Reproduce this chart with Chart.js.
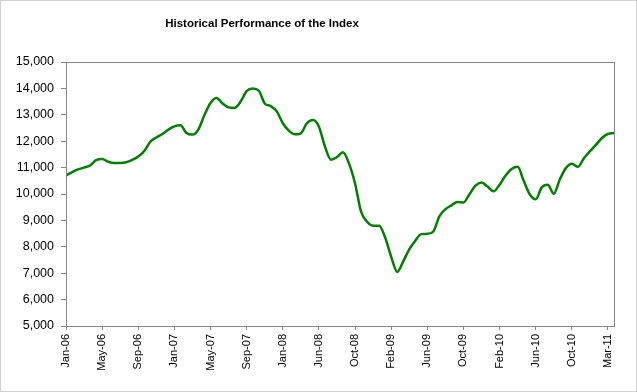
<!DOCTYPE html>
<html>
<head>
<meta charset="utf-8">
<script src="https://cdn.jsdelivr.net/npm/chart.js@4/dist/chart.umd.min.js"></script>
<style>
  html, body { margin: 0; padding: 0; background: #fff; }
  #wrap { width: 637px; height: 392px; }
</style>
</head>
<body>
<div id="wrap"><canvas id="chart" width="637" height="392"></canvas></div>
<script>
const title = "Historical Performance of the Index";

// one labelled tick every 6 points
const pointsPerTick = 6;
const tickLabels = [
  "Jan-06", "May-06", "Sep-06", "Jan-07", "May-07", "Sep-07", "Jan-08", "Jun-08",
  "Oct-08", "Feb-09", "Jun-09", "Oct-09", "Feb-10", "Jun-10", "Oct-10", "Mar-11",
];

const values = [
  10700, 10830, 10930, 11000, 11080, 11280, 11330, 11220, 11170, 11170,
  11200, 11290, 11420, 11630, 11980, 12140, 12270, 12440, 12560, 12600,
  12310, 12250, 12450, 13000, 13450, 13640, 13430, 13280, 13260, 13500,
  13900, 14000, 13920, 13430, 13330, 13130, 12680, 12400, 12260, 12300,
  12680, 12800, 12550, 11800, 11300, 11400, 11580, 11150, 10400, 9330,
  8950, 8800, 8800, 8350, 7620, 7050, 7450, 7900, 8230, 8480,
  8490, 8580, 9150, 9420, 9570, 9700, 9680, 9990, 10320, 10440,
  10280, 10100, 10350, 10700, 10950, 11030, 10500, 9990, 9800, 10250,
  10350, 10010, 10550, 10980, 11150, 11030, 11350, 11620, 11860, 12120,
  12280, 12310,
];

const font = "'Liberation Sans', Arial, sans-serif";
const axisGray = "#868686";

const frame = {
  id: "frame",
  beforeDraw(chart) {
    const { ctx, width, height } = chart;
    ctx.save();
    ctx.fillStyle = "#fff";
    ctx.fillRect(0, 0, width, height);
    ctx.strokeStyle = "#d2d2d2";
    ctx.lineWidth = 1;
    ctx.strokeRect(0.5, 0.5, width - 1, height - 1);
    ctx.fillStyle = "#000";
    ctx.font = "bold 11.5px " + font;
    ctx.textAlign = "center";
    ctx.textBaseline = "alphabetic";
    ctx.fillText(title, 262, 27);
    ctx.restore();
  },
  afterDatasetsDraw(chart) {
    const { ctx, chartArea: a } = chart;
    ctx.save();
    ctx.strokeStyle = axisGray;
    ctx.lineWidth = 1;
    ctx.strokeRect(Math.round(a.left) + 0.5, Math.round(a.top) + 0.5,
      Math.round(a.right - a.left), Math.round(a.bottom - a.top));
    ctx.restore();
  },
};

new Chart(document.getElementById("chart"), {
  type: "line",
  data: {
    datasets: [
      {
        data: values.map((v, i) => ({ x: i, y: v })),
        borderColor: "#008000",
        borderWidth: 2.5,
        pointRadius: 0,
        cubicInterpolationMode: "monotone",
        fill: false,
      },
    ],
  },
  options: {
    responsive: false,
    animation: false,
    layout: { padding: { top: 62, right: 23, bottom: 0, left: 0 } },
    plugins: {
      legend: { display: false },
      title: { display: false },
      tooltip: { enabled: false },
    },
    scales: {
      x: {
        type: "linear",
        min: 0,
        max: values.length - 1,
        afterBuildTicks: (scale) => {
          scale.ticks = tickLabels.map((_, i) => ({ value: i * pointsPerTick }));
        },
        afterFit: (scale) => { scale.height = 66; },
        grid: { drawOnChartArea: false, drawTicks: true, tickLength: 4, color: axisGray },
        border: { display: true, color: axisGray },
        ticks: {
          autoSkip: false,
          maxRotation: 90,
          minRotation: 90,
          padding: 4,
          color: "#000",
          font: { family: font, size: 11 },
          callback: (v) => tickLabels[Math.round(v / pointsPerTick)],
        },
      },
      y: {
        min: 5000,
        max: 15000,
        afterFit: (scale) => { scale.width = 66; },
        grid: { drawOnChartArea: false, drawTicks: true, tickLength: 5, color: axisGray },
        border: { display: true, color: axisGray },
        ticks: {
          stepSize: 1000,
          padding: 7,
          color: "#000",
          font: { family: font, size: 12.5 },
          callback: (v) => v.toLocaleString("en-US"),
        },
      },
    },
  },
  plugins: [frame],
});
</script>
</body>
</html>
